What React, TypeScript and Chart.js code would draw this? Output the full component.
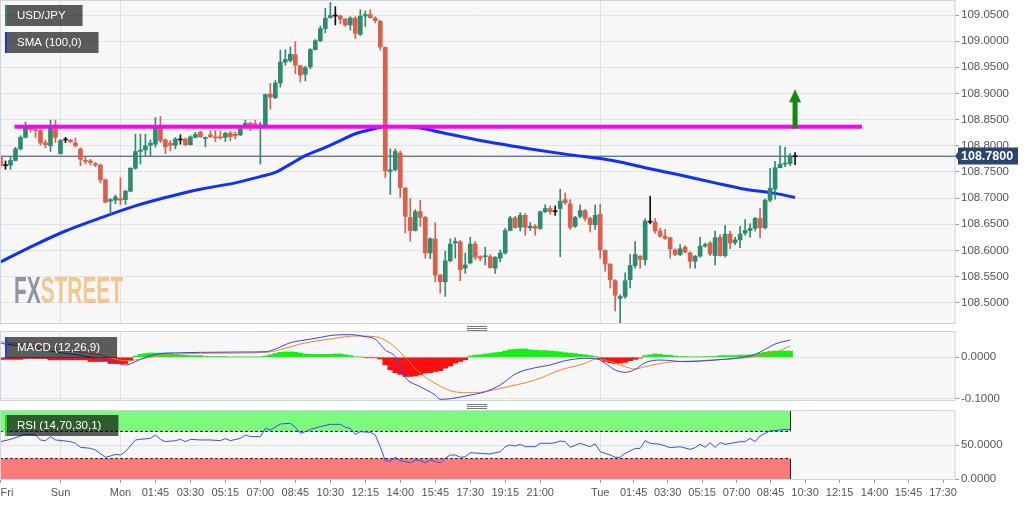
import React, { useEffect, useRef } from 'react';
import { Chart, registerables } from 'chart.js';

Chart.register(...registerables);

const FONT = '"Liberation Sans", Arial, Helvetica, sans-serif';
const WIDTH = 1032;
const AXIS_WIDTH = 77;
const X_MIN = -0.1;
const X_MAX = 191;

// ---------- price candles (15 min) ----------
const candleOpen = [
  108.778, 108.762, 108.763, 108.772, 108.794, 108.816, 108.834, 108.831, 108.829, 108.806,
  108.800, 108.835, 108.785, 108.811, 108.811, 108.805, 108.794, 108.772, 108.771, 108.766,
  108.763, 108.735, 108.694, 108.696, 108.699, 108.697, 108.713, 108.757, 108.789, 108.792,
  108.801, 108.803, 108.834, 108.811, 108.805, 108.801, 108.811, 108.813, 108.802, 108.816,
  108.826, 108.814, 108.821, 108.817, 108.817, 108.816, 108.824, 108.822, 108.821, 108.838,
  108.843, 108.842, 108.836, 108.838, 108.899, 108.892, 108.920, 108.960, 108.963, 108.974,
  108.953, 108.937, 108.951, 108.984, 109.001, 109.024, 109.045, 109.048, 109.048, 109.042,
  109.031, 109.044, 109.013, 109.048, 109.051, 109.044, 109.038, 108.988, 108.751, 108.754,
  108.786, 108.719, 108.663, 108.638, 108.674, 108.663, 108.595, 108.622, 108.553, 108.540,
  108.580, 108.614, 108.616, 108.566, 108.576, 108.612, 108.588, 108.588, 108.588, 108.566,
  108.585, 108.595, 108.638, 108.662, 108.644, 108.667, 108.643, 108.646, 108.642, 108.674,
  108.680, 108.674, 108.680, 108.697, 108.689, 108.646, 108.665, 108.676, 108.661, 108.649,
  108.669, 108.600, 108.574, 108.542, 108.508, 108.512, 108.544, 108.571, 108.589, 108.582,
  108.654, 108.654, 108.637, 108.627, 108.624, 108.601, 108.592, 108.606, 108.595, 108.579,
  108.589, 108.608, 108.614, 108.590, 108.625, 108.590, 108.631, 108.615, 108.620, 108.633,
  108.638, 108.642, 108.661, 108.643, 108.696, 108.717, 108.758, 108.765, 108.766, 108.779,
];
const candleHigh = [
  108.781, 108.771, 108.778, 108.797, 108.819, 108.845, 108.838, 108.834, 108.832, 108.811,
  108.849, 108.849, 108.812, 108.816, 108.812, 108.815, 108.796, 108.778, 108.774, 108.768,
  108.765, 108.736, 108.699, 108.706, 108.739, 108.715, 108.758, 108.822, 108.822, 108.822,
  108.811, 108.854, 108.856, 108.813, 108.810, 108.816, 108.821, 108.815, 108.819, 108.826,
  108.828, 108.817, 108.829, 108.829, 108.828, 108.826, 108.828, 108.826, 108.835, 108.849,
  108.845, 108.849, 108.845, 108.899, 108.919, 108.925, 108.983, 108.984, 108.989, 108.999,
  108.954, 108.952, 108.986, 109.003, 109.029, 109.063, 109.074, 109.066, 109.050, 109.044,
  109.047, 109.047, 109.060, 109.058, 109.060, 109.047, 109.040, 108.989, 108.794, 108.794,
  108.790, 108.720, 108.699, 108.678, 108.696, 108.665, 108.624, 108.653, 108.554, 108.598,
  108.622, 108.624, 108.619, 108.595, 108.625, 108.617, 108.590, 108.606, 108.592, 108.588,
  108.601, 108.642, 108.665, 108.665, 108.672, 108.670, 108.653, 108.649, 108.675, 108.687,
  108.685, 108.685, 108.717, 108.710, 108.697, 108.665, 108.687, 108.678, 108.663, 108.687,
  108.688, 108.601, 108.574, 108.544, 108.515, 108.557, 108.592, 108.617, 108.590, 108.661,
  108.704, 108.661, 108.642, 108.640, 108.625, 108.603, 108.611, 108.609, 108.597, 108.590,
  108.625, 108.614, 108.617, 108.637, 108.630, 108.648, 108.637, 108.625, 108.646, 108.659,
  108.651, 108.663, 108.680, 108.698, 108.757, 108.770, 108.800, 108.797, 108.785, 108.787,
];
const candleLow = [
  108.758, 108.755, 108.755, 108.771, 108.792, 108.815, 108.826, 108.816, 108.801, 108.796,
  108.789, 108.806, 108.784, 108.806, 108.806, 108.798, 108.762, 108.765, 108.763, 108.760,
  108.729, 108.691, 108.669, 108.689, 108.687, 108.688, 108.712, 108.755, 108.765, 108.781,
  108.781, 108.797, 108.806, 108.785, 108.790, 108.794, 108.803, 108.800, 108.801, 108.815,
  108.816, 108.798, 108.816, 108.808, 108.813, 108.808, 108.810, 108.813, 108.819, 108.836,
  108.829, 108.835, 108.765, 108.835, 108.870, 108.890, 108.912, 108.954, 108.960, 108.938,
  108.922, 108.924, 108.947, 108.983, 108.999, 109.016, 109.044, 109.031, 109.033, 109.028,
  109.021, 109.005, 109.011, 109.028, 109.044, 109.035, 108.983, 108.739, 108.707, 108.752,
  108.701, 108.633, 108.617, 108.637, 108.646, 108.585, 108.584, 108.540, 108.518, 108.512,
  108.578, 108.585, 108.542, 108.556, 108.574, 108.582, 108.580, 108.572, 108.566, 108.556,
  108.578, 108.593, 108.637, 108.642, 108.637, 108.629, 108.638, 108.629, 108.640, 108.672,
  108.669, 108.667, 108.588, 108.688, 108.640, 108.644, 108.662, 108.656, 108.635, 108.640,
  108.585, 108.560, 108.528, 108.484, 108.458, 108.508, 108.528, 108.566, 108.566, 108.572,
  108.651, 108.633, 108.625, 108.621, 108.585, 108.590, 108.590, 108.595, 108.566, 108.566,
  108.587, 108.606, 108.590, 108.572, 108.589, 108.587, 108.603, 108.611, 108.605, 108.629,
  108.625, 108.637, 108.624, 108.641, 108.693, 108.698, 108.758, 108.760, 108.762, 108.764,
];
const candleClose = [
  108.762, 108.762, 108.772, 108.794, 108.816, 108.834, 108.831, 108.829, 108.805, 108.802,
  108.835, 108.816, 108.810, 108.811, 108.808, 108.800, 108.774, 108.770, 108.768, 108.763,
  108.735, 108.692, 108.697, 108.702, 108.696, 108.713, 108.757, 108.789, 108.792, 108.800,
  108.805, 108.834, 108.810, 108.798, 108.801, 108.813, 108.811, 108.802, 108.817, 108.822,
  108.817, 108.816, 108.817, 108.815, 108.815, 108.824, 108.817, 108.819, 108.832, 108.843,
  108.838, 108.838, 108.840, 108.898, 108.893, 108.920, 108.960, 108.965, 108.975, 108.954,
  108.935, 108.949, 108.984, 109.001, 109.024, 109.044, 109.049, 109.048, 109.042, 109.031,
  109.044, 109.015, 109.048, 109.051, 109.045, 109.039, 108.989, 108.752, 108.754, 108.789,
  108.720, 108.665, 108.638, 108.674, 108.663, 108.595, 108.622, 108.553, 108.540, 108.580,
  108.612, 108.617, 108.563, 108.572, 108.612, 108.587, 108.585, 108.590, 108.567, 108.587,
  108.595, 108.638, 108.662, 108.644, 108.667, 108.644, 108.646, 108.642, 108.674, 108.680,
  108.674, 108.674, 108.694, 108.691, 108.644, 108.663, 108.676, 108.661, 108.649, 108.667,
  108.601, 108.574, 108.544, 108.514, 108.512, 108.542, 108.571, 108.592, 108.583, 108.656,
  108.654, 108.637, 108.627, 108.623, 108.603, 108.592, 108.603, 108.597, 108.579, 108.589,
  108.608, 108.611, 108.593, 108.624, 108.590, 108.631, 108.614, 108.620, 108.631, 108.638,
  108.642, 108.661, 108.643, 108.696, 108.719, 108.758, 108.765, 108.766, 108.781, 108.779,
];

// ---------- SMA(100) ----------
const smaIndex = [0, 7, 13, 20, 27, 33, 40, 47, 52, 55, 58, 61, 65, 68, 71, 75, 77, 81, 84, 88, 96, 106, 113, 123, 129, 136, 143, 149, 155, 159];
const smaValue = [108.578, 108.611, 108.637, 108.662, 108.685, 108.701, 108.717, 108.729, 108.741, 108.749, 108.765, 108.781, 108.797, 108.810, 108.823, 108.833, 108.837, 108.837, 108.834, 108.826, 108.810, 108.794, 108.784, 108.771, 108.758, 108.744, 108.729, 108.717, 108.709, 108.701];

const lastPrice = 108.78;
const resistanceLevel = 108.8365;
const resistanceFrom = 2.8;
const resistanceTo = 172.4;
const arrowIndex = 159;
const arrowFrom = 108.833;
const arrowTo = 108.908;

const priceMin = 108.4611;
const priceMax = 109.0768;
const priceTicks = [108.5, 108.55, 108.6, 108.65, 108.7, 108.75, 108.8, 108.85, 108.9, 108.95, 109.0, 109.05];

// ---------- MACD (12,26,9) ----------
const macdIndex = [0, 4, 8, 12, 16, 20, 23, 25, 27, 29, 32, 36, 40, 48, 53, 55, 58, 60, 63, 67, 70, 73, 75, 77, 79, 81, 84, 87, 88, 90, 93, 97, 100, 103, 107, 110, 113, 117, 119, 121, 123, 125, 127, 129, 132, 137, 143, 148, 151, 153, 155, 158];
const macdValue = [0.0335, 0.027, 0.019, 0.011, 0.0048, -0.0048, -0.0128, -0.0185, -0.0105, 0.0, 0.0087, 0.011, 0.0119, 0.0127, 0.0135, 0.0199, 0.035, 0.0399, 0.0455, 0.0535, 0.0543, 0.0495, 0.0431, 0.0175, 0.0015, -0.048, -0.0705, -0.0905, -0.1009, -0.0993, -0.093, -0.0825, -0.0665, -0.0401, -0.0249, -0.0185, -0.008, -0.0025, -0.0025, -0.0145, -0.0305, -0.036, -0.0289, -0.0128, -0.0065, -0.0105, -0.0065, -0.0008, 0.0071, 0.0191, 0.0319, 0.0415];
const signalIndex = [0, 10, 20, 25, 27, 30, 33, 40, 53, 57, 60, 67, 71, 75, 78, 81, 84, 87, 90, 93, 97, 100, 107, 112, 117, 119, 121, 125, 127, 129, 133, 140, 147, 150, 155, 158];
const signalValue = [0.0375, 0.0215, 0.0055, -0.008, -0.0065, 0.0, 0.0055, 0.0095, 0.0119, 0.0215, 0.0319, 0.0455, 0.0511, 0.0495, 0.0335, 0.0, -0.0385, -0.0625, -0.08, -0.085, -0.0825, -0.0745, -0.0545, -0.0305, -0.0145, -0.0048, -0.0065, -0.0225, -0.028, -0.0225, -0.0128, -0.008, -0.0032, 0.0, 0.0119, 0.0271];
const macdHist = [
  -0.005, -0.005, -0.005, -0.005, -0.005, -0.003, -0.003, -0.003, -0.003, -0.003,
  -0.006, -0.006, -0.006, -0.006, -0.006, -0.006, -0.006, -0.006, -0.010, -0.010,
  -0.010, -0.010, -0.015, -0.015, -0.015, -0.015, -0.008, 0.003, 0.007, 0.009,
  0.010, 0.010, 0.010, 0.010, 0.010, 0.008, 0.006, 0.005, 0.004, 0.004,
  0.004, 0.002, 0.002, 0.002, 0.002, 0.002, 0.001, 0.001, 0.001, 0.001,
  0.001, 0.001, 0.001, 0.003, 0.006, 0.009, 0.012, 0.013, 0.013, 0.012,
  0.010, 0.008, 0.007, 0.007, 0.007, 0.007, 0.007, 0.008, 0.008, 0.006,
  0.004, 0.001, 0.001, -0.001, -0.001, -0.001, -0.004, -0.018, -0.030, -0.037,
  -0.041, -0.046, -0.046, -0.045, -0.042, -0.038, -0.037, -0.034, -0.032, -0.026,
  -0.021, -0.014, -0.010, -0.006, 0.003, 0.005, 0.006, 0.008, 0.009, 0.011,
  0.012, 0.015, 0.018, 0.019, 0.020, 0.020, 0.018, 0.017, 0.016, 0.016,
  0.015, 0.014, 0.013, 0.011, 0.010, 0.009, 0.007, 0.006, 0.004, 0.002,
  -0.005, -0.010, -0.013, -0.015, -0.014, -0.012, -0.008, -0.005, -0.002, 0.004,
  0.006, 0.008, 0.007, 0.005, 0.005, 0.003, 0.002, 0.002, 0.001, 0.001,
  0.001, 0.002, 0.002, 0.002, 0.004, 0.004, 0.004, 0.004, 0.005, 0.005,
  0.006, 0.007, 0.010, 0.012, 0.014, 0.015, 0.015, 0.015, 0.015,
];
const macdMin = -0.1024;
const macdMax = 0.0607;
const macdTicks = [0, -0.1];

// ---------- RSI (14,70,30,1) ----------
const rsiIndex = [0, 2, 5, 7, 8, 9, 10, 11, 13, 14, 15, 16, 18, 19, 21, 22, 23, 24, 25, 27, 28, 30, 31, 32, 33, 35, 36, 37, 38, 40, 42, 44, 45, 46, 48, 49, 50, 52, 53, 54, 56, 58, 59, 60, 61, 62, 64, 66, 68, 69, 70, 71, 72, 74, 75, 76, 77, 78, 79, 80, 82, 83, 84, 85, 86, 87, 88, 89, 90, 91, 92, 93, 94, 96, 98, 100, 101, 102, 103, 104, 105, 107, 108, 110, 111, 112, 113, 114, 116, 118, 119, 120, 122, 123, 124, 125, 127, 128, 129, 130, 132, 134, 136, 138, 139, 140, 141, 142, 143, 144, 145, 148, 149, 150, 151, 152, 153, 154, 156, 157, 158];
const rsiValue = [54.9, 58.3, 65.7, 64.7, 57.4, 56.4, 62.3, 57.4, 55.9, 54.9, 52.5, 46.6, 45.1, 42.6, 31.9, 33.8, 36.3, 35.3, 40.2, 57.4, 58.3, 59.8, 64.7, 58.3, 54.9, 56.4, 58.3, 54.9, 58.3, 57.4, 57.4, 56.4, 59.3, 56.4, 59.8, 64.7, 62.3, 62.3, 74.5, 72.1, 80.9, 81.9, 76, 67.2, 69.6, 73, 77, 80.4, 80.4, 76, 74.5, 65.7, 69.6, 68.6, 64.7, 47.5, 26.5, 26.5, 31.9, 27, 24, 27.9, 27, 24, 27.9, 25.5, 24, 30.4, 35.3, 35.3, 31.9, 32.8, 38.7, 37.7, 36.8, 40.2, 47.5, 50, 48.5, 51, 47.5, 47.5, 52.5, 52.5, 53.4, 55.9, 54.9, 46.6, 52.5, 47.5, 51.5, 40.2, 35.3, 31.9, 31.9, 37.7, 45, 45, 56.4, 52.5, 51, 46.1, 47.5, 43.6, 46.1, 51, 46.6, 53.4, 46.6, 53.4, 51, 54.9, 54.9, 59.8, 54.9, 63.2, 67.2, 70.6, 72.1, 73, 73];
const rsiMax = 100;
const rsiUpper = 70;
const rsiLower = 30;
const rsiEnd = 158;
const rsiTicks = [0, 50];

// ---------- time axis (positions) ----------
const timeTickIndex = [0, 12, 24, 31, 38, 45, 52, 59, 66, 73, 80, 87, 94, 101, 108, 120, 126.7, 133.5, 140.4, 147.3, 154.1, 161, 167.9, 174.9, 181.7, 188.6, 191];
const timeTickLabel = ['Fri', 'Sun', 'Mon', '01:45', '03:30', '05:15', '07:00', '08:45', '10:30', '12:15', '14:00', '15:45', '17:30', '19:15', '21:00', 'Tue', '01:45', '03:30', '05:15', '07:00', '08:45', '10:30', '12:15', '14:00', '15:45', '17:30', ''];
const dayIndex = [12, 24, 120];

// ---------- styling ----------
const GREEN = '#2e8b6f';
const RED = '#da604b';
const DOJI = '#111111';
const PANEL_BG = '#f7f7f7';
const PANEL_BORDER = '#cdd3e2';
const GRID = '#e2e2e2';
const LABEL = '#555555';
const BOX_BG = 'rgba(0,0,0,0.63)';

const candleColor = (i: number) =>
  candleClose[i] > candleOpen[i] ? GREEN : candleClose[i] < candleOpen[i] ? RED : DOJI;

const zeroPadding = (s: any) => {
  s.paddingLeft = 0;
  s.paddingRight = 0;
  s.paddingTop = 0;
  s.paddingBottom = 0;
};

const panelPlugin = (handleX: number | null) => ({
  id: 'panel',
  beforeDraw(chart: any) {
    const { ctx, chartArea: a } = chart;
    ctx.save();
    ctx.fillStyle = '#ffffff';
    ctx.fillRect(0, 0, chart.width, chart.height);
    ctx.fillStyle = PANEL_BG;
    ctx.fillRect(a.left, a.top, a.right - a.left, a.bottom - a.top);
    ctx.restore();
  },
  beforeDatasetsDraw(chart: any) {
    const { ctx, chartArea: a, scales } = chart;
    ctx.save();
    ctx.strokeStyle = GRID;
    ctx.lineWidth = 1;
    dayIndex.forEach((d) => {
      const px = Math.floor(scales.x.getPixelForValue(d)) + 0.5;
      ctx.beginPath();
      ctx.moveTo(px, a.top);
      ctx.lineTo(px, a.bottom);
      ctx.stroke();
    });
    ctx.restore();
  },
  afterDraw(chart: any) {
    const { ctx, chartArea: a } = chart;
    ctx.save();
    ctx.strokeStyle = PANEL_BORDER;
    ctx.lineWidth = 1;
    ctx.strokeRect(a.left + 0.5, a.top - 0.5, a.right - a.left - 0.5, a.bottom - a.top + 1);
    if (handleX !== null) {
      ctx.fillStyle = '#7a7a7a';
      for (let k = 0; k < 3; k++) ctx.fillRect(handleX, 2 + k * 2, 20, 1);
    }
    ctx.restore();
  },
});

type Box = { text: string; top: number; h: number; bar: string };
const labelPlugin = (boxes: Box[]) => ({
  id: 'labelBoxes',
  afterDraw(chart: any) {
    const ctx = chart.ctx;
    ctx.save();
    ctx.font = `11.5px ${FONT}`;
    boxes.forEach((b) => {
      const tw = ctx.measureText(b.text).width;
      const w = 12 + tw + 17;
      ctx.fillStyle = BOX_BG;
      ctx.fillRect(5, b.top, w, b.h);
      ctx.fillStyle = b.bar;
      ctx.fillRect(5, b.top, 2, b.h);
      ctx.fillStyle = '#ffffff';
      ctx.textBaseline = 'middle';
      ctx.textAlign = 'left';
      ctx.fillText(b.text, 17, b.top + b.h / 2 + 0.5);
    });
    ctx.restore();
  },
});

const watermarkPlugin = {
  id: 'watermark',
  beforeDatasetsDraw(chart: any) {
    const ctx = chart.ctx;
    ctx.save();
    ctx.font = `bold 36px ${FONT}`;
    const w1 = ctx.measureText('FX').width;
    const w2 = ctx.measureText('STREET').width;
    const sx = 109 / (w1 + w2);
    ctx.translate(14, 303);
    ctx.scale(sx, 1);
    ctx.textBaseline = 'alphabetic';
    ctx.textAlign = 'left';
    ctx.fillStyle = 'rgba(128,132,145,0.85)';
    ctx.fillText('FX', 0, 0);
    ctx.fillStyle = 'rgba(240,188,118,0.8)';
    ctx.fillText('STREET', w1, 0);
    ctx.restore();
  },
};

const arrowPlugin = {
  id: 'arrow',
  afterDatasetsDraw(chart: any) {
    const { ctx, scales } = chart;
    const cx = scales.x.getPixelForValue(arrowIndex);
    const yb = scales.y.getPixelForValue(arrowFrom);
    const yt = scales.y.getPixelForValue(arrowTo);
    const headH = 13;
    const headW = 12;
    const shaftW = 5;
    ctx.save();
    ctx.fillStyle = '#138a13';
    ctx.fillRect(cx - shaftW / 2, yt + headH - 0.5, shaftW, yb - yt - headH + 0.5);
    ctx.beginPath();
    ctx.moveTo(cx - headW / 2, yt + headH);
    ctx.lineTo(cx + headW / 2, yt + headH);
    ctx.lineTo(cx, yt);
    ctx.closePath();
    ctx.fill();
    ctx.restore();
  },
};

const badgePlugin = {
  id: 'badge',
  afterDraw(chart: any) {
    const { ctx, scales, chartArea: a } = chart;
    const y = Math.round(scales.y.getPixelForValue(lastPrice));
    const x0 = a.right + 3;
    ctx.save();
    ctx.fillStyle = '#2b4570';
    ctx.beginPath();
    ctx.moveTo(a.right, y);
    ctx.lineTo(x0, y - 4);
    ctx.lineTo(x0, y + 4);
    ctx.closePath();
    ctx.fill();
    ctx.fillRect(x0, y - 8.5, 60, 17);
    ctx.fillStyle = '#ffffff';
    ctx.font = `bold 12.5px ${FONT}`;
    ctx.textBaseline = 'middle';
    ctx.textAlign = 'left';
    ctx.fillText(lastPrice.toFixed(4), x0 + 3, y + 0.5);
    ctx.restore();
  },
};

const yAxis = (min: number, max: number, ticks: number[]) => ({
  position: 'right',
  min,
  max,
  afterFit: (s: any) => {
    s.width = AXIS_WIDTH;
    zeroPadding(s);
  },
  afterBuildTicks: (s: any) => {
    s.ticks = ticks.map((v) => ({ value: v }));
  },
  ticks: {
    callback: (v: any) => Number(v).toFixed(4),
    font: { family: FONT, size: 11.5 },
    color: LABEL,
    padding: 2,
  },
  grid: { color: GRID, tickColor: '#999999', tickLength: 4, drawTicks: true },
  border: { display: false },
});

const hiddenX = {
  type: 'linear',
  min: X_MIN,
  max: X_MAX,
  offset: false,
  display: false,
  afterFit: zeroPadding,
};

const common = {
  responsive: false,
  animation: false,
  events: [],
};

function mainConfig(): any {
  const idx = candleOpen.map((_, i) => i);
  const colors = idx.map(candleColor);
  return {
    type: 'bar',
    data: {
      datasets: [
        {
          type: 'line',
          data: [
            { x: resistanceFrom, y: resistanceLevel },
            { x: resistanceTo, y: resistanceLevel },
          ],
          borderColor: '#ff00ff',
          borderWidth: 4,
          pointRadius: 0,
          order: 0,
        },
        {
          type: 'bar',
          data: idx.map((i) => ({ x: i, y: [candleOpen[i], candleClose[i]] })),
          backgroundColor: colors,
          barThickness: 4,
          minBarLength: 1,
          grouped: false,
          clip: 0,
          order: 1,
        },
        {
          type: 'bar',
          data: idx.map((i) => ({ x: i, y: [candleLow[i], candleHigh[i]] })),
          backgroundColor: colors,
          barThickness: 1,
          grouped: false,
          clip: 0,
          order: 2,
        },
        {
          type: 'line',
          data: smaIndex.map((x, k) => ({ x, y: smaValue[k] })),
          borderColor: '#1030ff',
          borderWidth: 3,
          pointRadius: 0,
          cubicInterpolationMode: 'monotone',
          order: 3,
        },
        {
          type: 'line',
          data: [
            { x: X_MIN, y: lastPrice },
            { x: X_MAX, y: lastPrice },
          ],
          borderColor: '#2f4366',
          borderWidth: 1,
          pointRadius: 0,
          order: 4,
        },
      ],
    },
    options: {
      ...common,
      layout: { padding: { top: 1, bottom: 1, left: 0, right: 0 }, autoPadding: false },
      plugins: { legend: { display: false }, tooltip: { enabled: false } },
      scales: { x: hiddenX, y: yAxis(priceMin, priceMax, priceTicks) },
    },
    plugins: [
      panelPlugin(null),
      watermarkPlugin,
      arrowPlugin,
      badgePlugin,
      labelPlugin([
        { text: 'USD/JPY', top: 5, h: 21, bar: '#2e8b6f' },
        { text: 'SMA (100,0)', top: 32, h: 21, bar: '#1030ff' },
      ]),
    ],
  };
}

function macdConfig(): any {
  return {
    type: 'bar',
    data: {
      datasets: [
        {
          type: 'line',
          data: macdIndex.map((x, k) => ({ x, y: macdValue[k] })),
          borderColor: '#2a48ff',
          borderWidth: 1,
          pointRadius: 0,
          cubicInterpolationMode: 'monotone',
          order: 0,
        },
        {
          type: 'line',
          data: signalIndex.map((x, k) => ({ x, y: signalValue[k] })),
          borderColor: '#ff7f2a',
          borderWidth: 1,
          pointRadius: 0,
          cubicInterpolationMode: 'monotone',
          order: 1,
        },
        {
          type: 'bar',
          data: macdHist.map((v, i) => ({ x: i, y: v })),
          backgroundColor: macdHist.map((v) => (v >= 0 ? '#14f014' : '#ff1010')),
          barThickness: 5,
          grouped: false,
          order: 2,
        },
      ],
    },
    options: {
      ...common,
      layout: { padding: { top: 8, bottom: 2, left: 0, right: 0 }, autoPadding: false },
      plugins: { legend: { display: false }, tooltip: { enabled: false } },
      scales: { x: hiddenX, y: yAxis(macdMin, macdMax, macdTicks) },
    },
    plugins: [
      panelPlugin(467),
      labelPlugin([{ text: 'MACD (12,26,9)', top: 13, h: 21, bar: '#1a3cff' }]),
    ],
  };
}

function rsiConfig(): any {
  const zone = (v: number) => [
    { x: X_MIN, y: v },
    { x: rsiEnd, y: v },
  ];
  const edgePlugin = {
    id: 'rsiEdges',
    afterDatasetsDraw(chart: any) {
      const { ctx, scales } = chart;
      const xr = Math.floor(scales.x.getPixelForValue(rsiEnd)) + 0.5;
      const xl = Math.floor(scales.x.getPixelForValue(0)) + 0.5;
      ctx.save();
      ctx.strokeStyle = '#222222';
      ctx.lineWidth = 1;
      [
        [rsiMax, rsiUpper],
        [rsiLower, 0],
      ].forEach(([a, b]) => {
        [xl, xr].forEach((x) => {
          ctx.beginPath();
          ctx.moveTo(x, scales.y.getPixelForValue(a));
          ctx.lineTo(x, scales.y.getPixelForValue(b));
          ctx.stroke();
        });
      });
      ctx.restore();
    },
  };
  const lastTick = timeTickIndex.length - 1;
  return {
    type: 'line',
    data: {
      datasets: [
        { data: zone(rsiMax), borderWidth: 0, pointRadius: 0, fill: false, order: 5 },
        {
          data: zone(rsiUpper),
          borderColor: '#222222',
          borderWidth: 1,
          borderDash: [3, 2],
          pointRadius: 0,
          fill: '-1',
          backgroundColor: 'rgb(125,250,125)',
          order: 4,
        },
        {
          data: zone(rsiLower),
          borderColor: '#222222',
          borderWidth: 1,
          borderDash: [3, 2],
          pointRadius: 0,
          fill: 'origin',
          backgroundColor: 'rgb(249,124,122)',
          order: 3,
        },
        {
          data: rsiIndex.map((x, k) => ({ x, y: rsiValue[k] })),
          borderColor: '#3050f5',
          borderWidth: 1,
          pointRadius: 0,
          fill: false,
          order: 0,
        },
      ],
    },
    options: {
      ...common,
      layout: { padding: { top: 9, bottom: 0, left: 0, right: 0 }, autoPadding: false },
      plugins: { legend: { display: false }, tooltip: { enabled: false } },
      scales: {
        x: {
          type: 'linear',
          min: X_MIN,
          max: X_MAX,
          offset: false,
          position: 'bottom',
          afterFit: (s: any) => {
            s.height = 26;
            zeroPadding(s);
          },
          afterBuildTicks: (s: any) => {
            s.ticks = timeTickIndex.map((v) => ({ value: v }));
          },
          ticks: {
            callback: (_v: any, k: number) => timeTickLabel[k],
            autoSkip: false,
            maxRotation: 0,
            minRotation: 0,
            align: 'inner',
            padding: 3,
            font: { family: FONT, size: 11 },
            color: LABEL,
          },
          grid: {
            drawOnChartArea: false,
            drawTicks: true,
            tickLength: 4,
            tickColor: (c: any) => (c.index === lastTick ? 'rgba(0,0,0,0)' : '#999999'),
          },
          border: { display: false },
        },
        y: yAxis(0, rsiMax, rsiTicks),
      },
    },
    plugins: [
      panelPlugin(467),
      edgePlugin,
      labelPlugin([{ text: 'RSI (14,70,30,1)', top: 13, h: 21, bar: '#19d919' }]),
    ],
  };
}

export default function App() {
  const mainRef = useRef<HTMLCanvasElement>(null);
  const macdRef = useRef<HTMLCanvasElement>(null);
  const rsiRef = useRef<HTMLCanvasElement>(null);

  useEffect(() => {
    const charts: Chart[] = [];
    if (mainRef.current) charts.push(new Chart(mainRef.current, mainConfig()));
    if (macdRef.current) charts.push(new Chart(macdRef.current, macdConfig()));
    if (rsiRef.current) charts.push(new Chart(rsiRef.current, rsiConfig()));
    return () => charts.forEach((c) => c.destroy());
  }, []);

  const cv = (top: number): React.CSSProperties => ({ position: 'absolute', left: 0, top, display: 'block' });

  return (
    <div style={{ position: 'absolute', left: 0, top: 0, width: WIDTH, height: 505, background: '#ffffff', overflow: 'hidden' }}>
      <canvas ref={mainRef} width={WIDTH} height={324} style={cv(0)} />
      <canvas ref={macdRef} width={WIDTH} height={78} style={cv(324)} />
      <canvas ref={rsiRef} width={WIDTH} height={103} style={cv(402)} />
    </div>
  );
}
